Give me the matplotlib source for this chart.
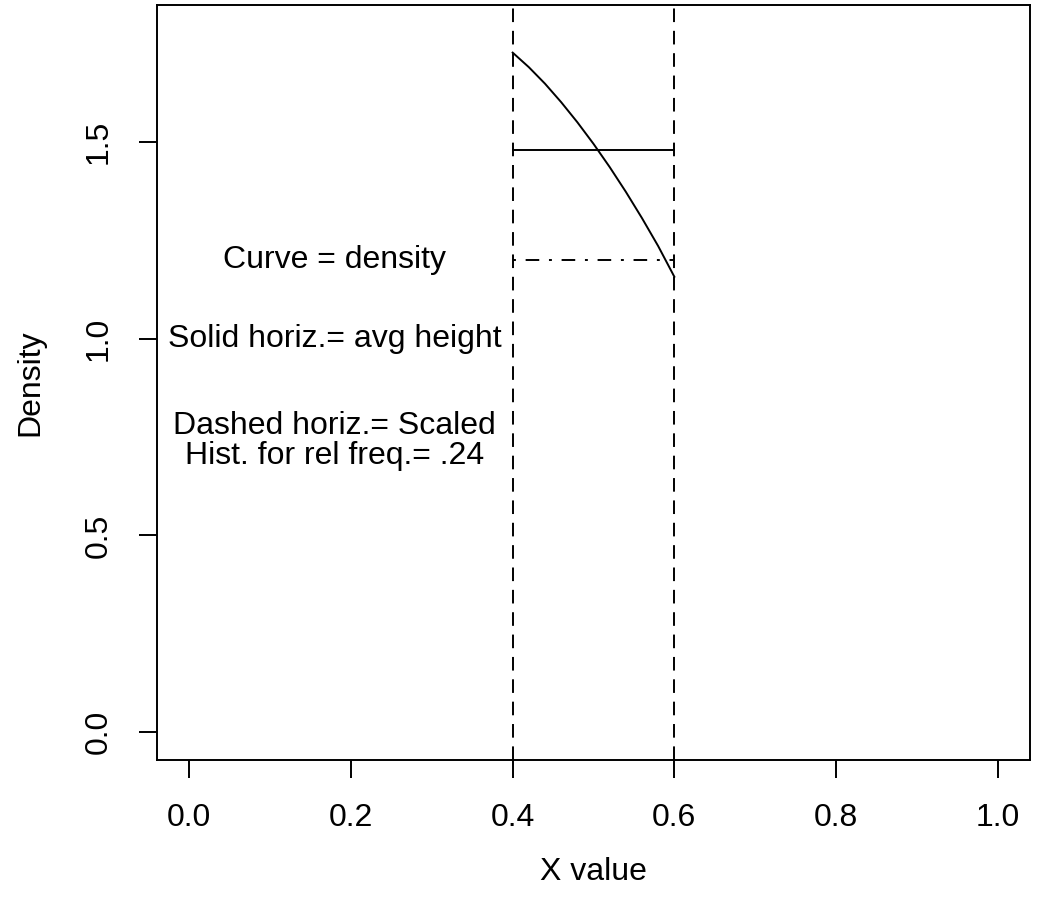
import matplotlib
matplotlib.use("Agg")
import matplotlib.pyplot as plt

plt.rcParams['font.family'] = ['Liberation Sans', 'DejaVu Sans']

# density curve, on the interval [0.4, 0.6]
curve_x = [0.40, 0.42, 0.44, 0.46, 0.48, 0.50, 0.52, 0.54, 0.56, 0.58, 0.60]
curve_y = [1.728, 1.691, 1.649, 1.602, 1.551, 1.496, 1.437, 1.374, 1.307, 1.236, 1.158]

interval = [0.4, 0.6]
avg_height = 1.48
rel_freq = 0.24
hist_height = rel_freq / (interval[1] - interval[0])

xticks = [0.0, 0.2, 0.4, 0.6, 0.8, 1.0]
yticks = [0.0, 0.5, 1.0, 1.5]
ylim_top = 1.778

notes = ["Curve = density",
         "Solid horiz.= avg height",
         "Dashed horiz.= Scaled\nHist. for rel freq.= .24"]
note_y = [1.2, 1.0, 0.74]
note_x = 0.18

fs = 23
fig = plt.figure(figsize=(10.4, 9.09), dpi=100)
ax = fig.add_axes([157 / 1040, 149 / 909, 873 / 1040, 755 / 909])

ax.plot(curve_x, curve_y, color='black', lw=1.4)
ax.plot(interval, [avg_height, avg_height], color='black', lw=1.4)
ax.plot(interval, [hist_height, hist_height], color='black', lw=1.4,
        dashes=(1.5, 5, 7, 5))
for xv in interval:
    ax.axvline(xv, color='black', lw=1.4, dashes=(7, 4.5))

for t, yv in zip(notes, note_y):
    ax.text(note_x, yv, t, ha='center', va='center', fontsize=fs,
            linespacing=1.0)

ax.set_xlim(-0.04, 1.04)
ax.set_ylim(-0.04 * ylim_top, ylim_top * 1.04)
ax.set_xticks(xticks)
ax.set_xticklabels(["%.1f" % v for v in xticks])
ax.set_yticks(yticks)
ax.set_yticklabels(["%.1f" % v for v in yticks], rotation=90, va='center')
ax.tick_params(axis='both', length=13, width=1.4, labelsize=fs, pad=18)

ax.set_xlabel("X value", fontsize=fs)
ax.set_ylabel("Density", fontsize=fs)
ax.xaxis.set_label_coords(0.5, -0.148)
ax.yaxis.set_label_coords(-0.1455, 0.5)
for lab in [ax.xaxis.label, ax.yaxis.label]:
    lab.set_va('center')

for s in ax.spines.values():
    s.set_linewidth(1.4)

fig.savefig("out.png", dpi=100)
